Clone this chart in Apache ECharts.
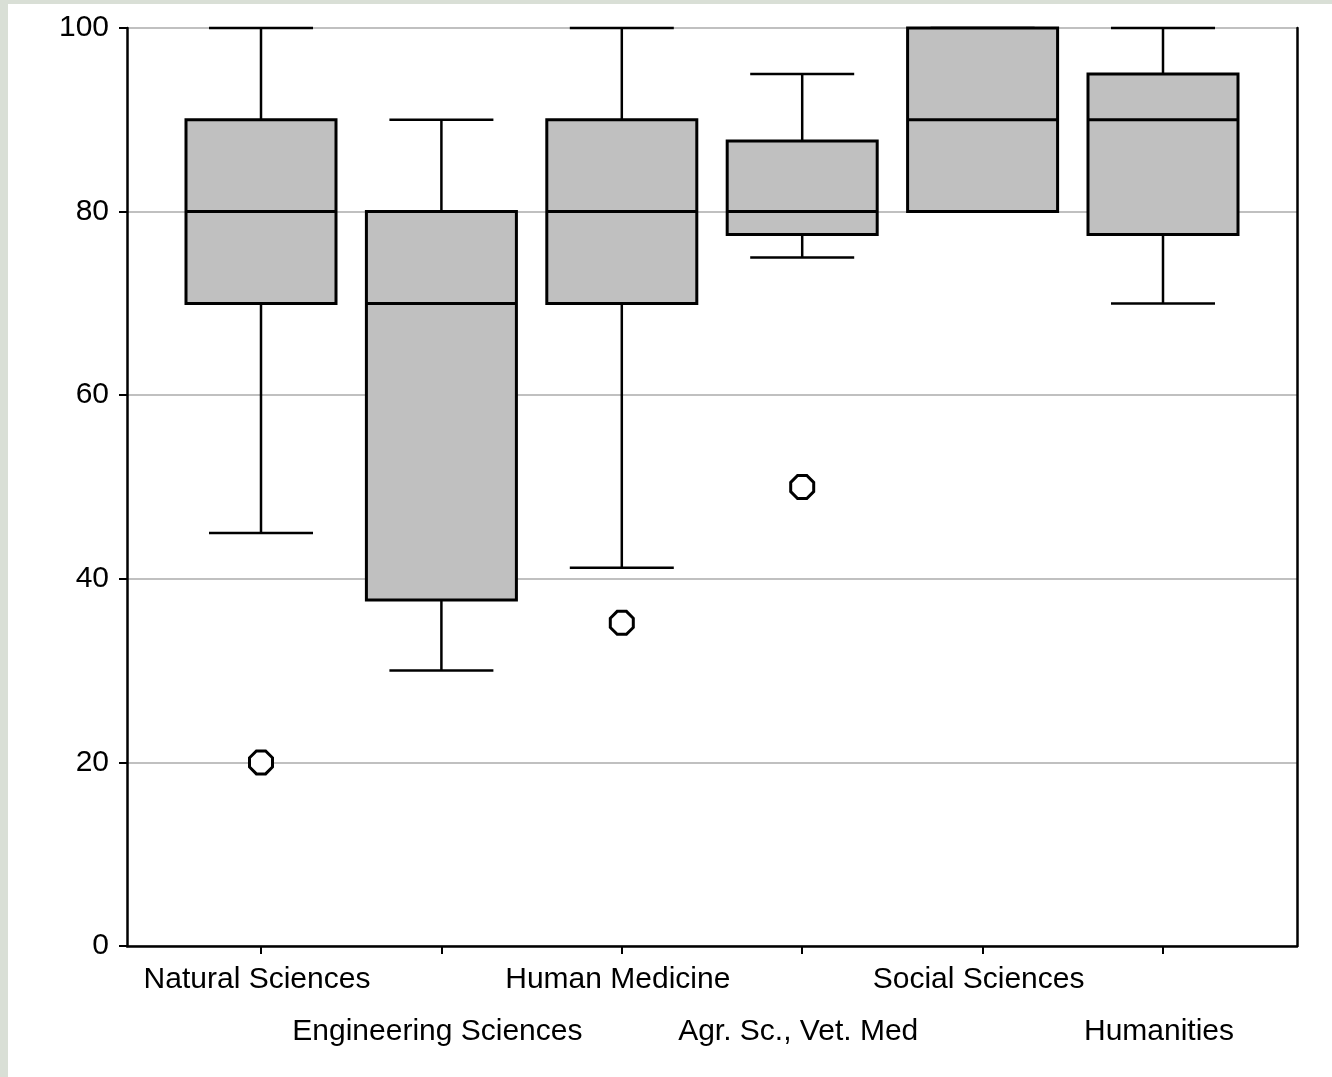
<!DOCTYPE html>
<html>
<head>
<meta charset="utf-8">
<script src="https://cdn.jsdelivr.net/npm/echarts@6/dist/echarts.min.js"></script>
<style>
html,body{margin:0;padding:0;background:#d9dfd6;width:1332px;height:1077px;overflow:hidden;}
#chart{position:absolute;left:8px;top:4px;width:1324px;height:1073px;background:#ffffff;}
</style>
</head>
<body>
<div id="chart"></div>
<script>
const categories = ['Natural Sciences','Engineering Sciences','Human Medicine','Agr. Sc., Vet. Med','Social Sciences','Humanities'];
const whiskerLow  = [45, 30, 41.2, 75, 80, 70];
const q1          = [70, 37.7, 70, 77.5, 80, 77.5];
const median      = [80, 70, 80, 80, 90, 90];
const q3          = [90, 80, 90, 87.7, 100, 95];
const whiskerHigh = [100, 90, 100, 95, 100, 100];
const outlierCat  = [0, 2, 3];
const outlierVal  = [20, 35.2, 50];

const boxData = categories.map((c, i) => [i, whiskerLow[i], q1[i], median[i], q3[i], whiskerHigh[i]]);
const outlierData = outlierCat.map((c, i) => [c, outlierVal[i]]);

const chart = echarts.init(document.getElementById('chart'));
const FONT = '"Liberation Sans", Arial, sans-serif';

function renderBox(params, api) {
  const x = api.value(0);
  const lo = api.value(1), a = api.value(2), m = api.value(3), b = api.value(4), hi = api.value(5);
  const band = api.size([1, 0])[0];
  const boxW = band * 0.8315;
  const capW = band * 0.5765;
  const pLo = api.coord([x, lo]), pA = api.coord([x, a]), pM = api.coord([x, m]), pB = api.coord([x, b]), pHi = api.coord([x, hi]);
  const cx = pA[0];
  const line = {stroke: '#000', lineWidth: 2.5};
  return {
    type: 'group',
    children: [
      {type: 'line', shape: {x1: cx, y1: pHi[1], x2: cx, y2: pB[1]}, style: line},
      {type: 'line', shape: {x1: cx, y1: pA[1], x2: cx, y2: pLo[1]}, style: line},
      {type: 'line', shape: {x1: cx - capW/2, y1: pHi[1], x2: cx + capW/2, y2: pHi[1]}, style: line},
      {type: 'line', shape: {x1: cx - capW/2, y1: pLo[1], x2: cx + capW/2, y2: pLo[1]}, style: line},
      {type: 'rect', shape: {x: cx - boxW/2, y: pB[1], width: boxW, height: pA[1] - pB[1]},
        style: {fill: '#c0c0c0', stroke: '#000', lineWidth: 3}},
      {type: 'line', shape: {x1: cx - boxW/2, y1: pM[1], x2: cx + boxW/2, y2: pM[1]}, style: {stroke: '#000', lineWidth: 3}}
    ]
  };
}

chart.setOption({
  animation: false,
  backgroundColor: '#ffffff',
  grid: [
    {left: 119, right: 35, top: 24, bottom: 131, containLabel: false},
    {left: 162.8, right: 78.8, top: 24, bottom: 131, containLabel: false}
  ],
  xAxis: [{
    gridIndex: 0, type: 'value', min: 0, max: 1,
    axisLine: {show: true, onZero: false, lineStyle: {color: '#000', width: 2.5}},
    axisTick: {show: false}, axisLabel: {show: false}, splitLine: {show: false}
  }, {
    gridIndex: 1, type: 'category', data: categories, boundaryGap: true,
    axisLine: {show: false, onZero: false},
    axisTick: {show: true, alignWithLabel: true, interval: 0, length: 8, lineStyle: {color: '#000', width: 2}},
    axisLabel: {
      show: true, interval: 0, margin: 8, padding: [0, 8, 0, 0],
      color: '#000', fontSize: 30, fontFamily: FONT, lineHeight: 52,
      formatter: function (v, i) {
        return (i % 2 === 1 ? '\n' : '') + v;
      }
    },
    splitLine: {show: false}
  }],
  yAxis: [{
    gridIndex: 0, type: 'value', min: 0, max: 100, interval: 20,
    axisLine: {show: true, onZero: false, lineStyle: {color: '#000', width: 2.5}},
    axisTick: {show: true, length: 8, lineStyle: {color: '#000', width: 2}},
    axisLabel: {color: '#000', fontSize: 30, fontFamily: FONT, margin: 18},
    splitLine: {show: true, lineStyle: {color: '#c0c0c0', width: 2}}
  }, {
    gridIndex: 0, type: 'value', min: 0, max: 100, position: 'right',
    axisLine: {show: true, onZero: false, lineStyle: {color: '#000', width: 2.5}},
    axisTick: {show: false}, axisLabel: {show: false}, splitLine: {show: false}
  }, {
    gridIndex: 1, type: 'value', min: 0, max: 100,
    axisLine: {show: false}, axisTick: {show: false}, axisLabel: {show: false}, splitLine: {show: false}
  }],
  series: [{
    type: 'custom',
    xAxisIndex: 1, yAxisIndex: 2,
    renderItem: renderBox,
    encode: {x: 0, y: [1, 2, 3, 4, 5]},
    data: boxData,
    z: 3
  }, {
    type: 'scatter',
    xAxisIndex: 1, yAxisIndex: 2,
    data: outlierData,
    symbol: 'path://M3,0 L7,0 L10,3 L10,7 L7,10 L3,10 L0,7 L0,3 Z',
    symbolSize: 23,
    itemStyle: {color: '#ffffff', borderColor: '#000000', borderWidth: 3, opacity: 1},
    z: 4
  }]
});
</script>
</body>
</html>
